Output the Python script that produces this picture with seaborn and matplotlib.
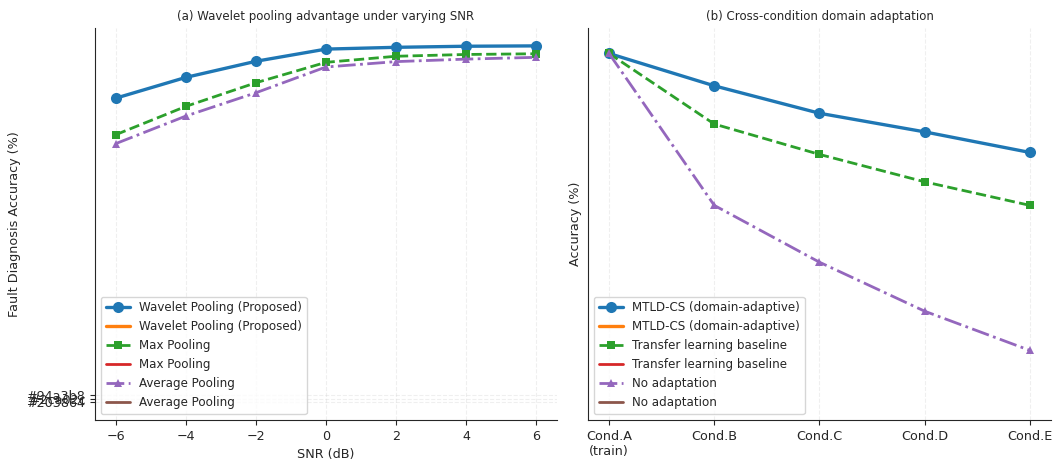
import matplotlib
matplotlib.use("Agg")
import matplotlib.pyplot as plt
import seaborn as sns
import pandas as pd

# panel (a): accuracy vs SNR
snr = [-6, -4, -2, 0, 2, 4, 6]
wavelet_acc = [85.0, 90.8, 95.3, 98.7, 99.2, 99.5, 99.6]
max_acc = [74.8, 82.7, 89.3, 95.0, 96.7, 97.2, 97.4]
avg_acc = [72.3, 80.0, 86.5, 93.7, 95.2, 95.9, 96.4]
hex_ticks = ['#203864', '#2ca02c', '#94a3b8']

# panel (b): cross-condition adaptation
conds = ['Cond.A\n(train)', 'Cond.B', 'Cond.C', 'Cond.D', 'Cond.E']
mtld_acc = [97.4, 94.1, 91.3, 89.4, 87.3]
transfer_acc = [97.4, 90.2, 87.1, 84.3, 81.9]
noadapt_acc = [97.4, 81.9, 76.1, 71.1, 67.1]

sns.set_style("ticks")
plt.rcParams['font.family'] = ['DejaVu Sans']
plt.rcParams['xtick.labelsize'] = 9.2
plt.rcParams['ytick.labelsize'] = 9.2
plt.rcParams['axes.labelsize'] = 9.2

fig = plt.figure(figsize=(10.53, 4.62), dpi=100)
ax1 = fig.add_axes([0.0902, 0.0909, 0.4387, 0.8485])
ax2 = fig.add_axes([0.5584, 0.0909, 0.4397, 0.8485])

df_a = pd.DataFrame({'snr': snr, 'wav': wavelet_acc, 'max': max_acc, 'avg': avg_acc})
sns.lineplot(data=df_a, x='snr', y='wav', ax=ax1, color='#1f77b4', marker='o',
             markersize=8, linewidth=2.4, markeredgewidth=0, label='Wavelet Pooling (Proposed)')
ax1.plot([], [], color='#ff7f0e', linewidth=2.4, label='Wavelet Pooling (Proposed)')
sns.lineplot(data=df_a, x='snr', y='max', ax=ax1, color='#2ca02c', marker='s',
             markersize=6, linewidth=2, linestyle='--', markeredgewidth=0, label='Max Pooling')
ax1.plot([], [], color='#d62728', linewidth=2, label='Max Pooling')
sns.lineplot(data=df_a, x='snr', y='avg', ax=ax1, color='#9467bd', marker='^',
             markersize=6, linewidth=2, linestyle='-.', markeredgewidth=0, label='Average Pooling')
ax1.plot([], [], color='#8c564b', linewidth=2, label='Average Pooling')

ax1.set_ylim(-4.98, 104.6)
ax1.set_xlim(-6.6, 6.6)
ax1.set_yticks([0, 1, 2])
ax1.set_yticklabels(hex_ticks)
ax1.grid(True, linestyle='--', alpha=0.3)
ax1.set_xlabel('SNR (dB)')
ax1.set_ylabel('Fault Diagnosis Accuracy (%)')
ax1.set_title('(a) Wavelet pooling advantage under varying SNR', fontsize=8.5)
ax1.legend(loc='lower left', fontsize=8.6)

xb = list(range(len(conds)))
df_b = pd.DataFrame({'c': xb, 'mtld': mtld_acc, 'tl': transfer_acc, 'na': noadapt_acc})
sns.lineplot(data=df_b, x='c', y='mtld', ax=ax2, color='#1f77b4', marker='o',
             markersize=8, linewidth=2.4, markeredgewidth=0, label='MTLD-CS (domain-adaptive)')
ax2.plot([], [], color='#ff7f0e', linewidth=2.4, label='MTLD-CS (domain-adaptive)')
sns.lineplot(data=df_b, x='c', y='tl', ax=ax2, color='#2ca02c', marker='s',
             markersize=6, linewidth=2, linestyle='--', markeredgewidth=0, label='Transfer learning baseline')
ax2.plot([], [], color='#d62728', linewidth=2, label='Transfer learning baseline')
sns.lineplot(data=df_b, x='c', y='na', ax=ax2, color='#9467bd', marker='^',
             markersize=6, linewidth=2, linestyle='-.', markeredgewidth=0, label='No adaptation')
ax2.plot([], [], color='#8c564b', linewidth=2, label='No adaptation')

ax2.set_ylim(60, 100)
ax2.set_xlim(-0.2, 4.2)
ax2.set_xticks(xb)
ax2.set_xticklabels(conds)
ax2.set_yticks([])
ax2.grid(True, axis='x', linestyle='--', alpha=0.3)
ax2.set_xlabel('')
ax2.set_ylabel('Accuracy (%)')
ax2.set_title('(b) Cross-condition domain adaptation', fontsize=8.5)
ax2.legend(loc='lower left', fontsize=8.6)

sns.despine(fig)
fig.savefig('out.png', dpi=100)
